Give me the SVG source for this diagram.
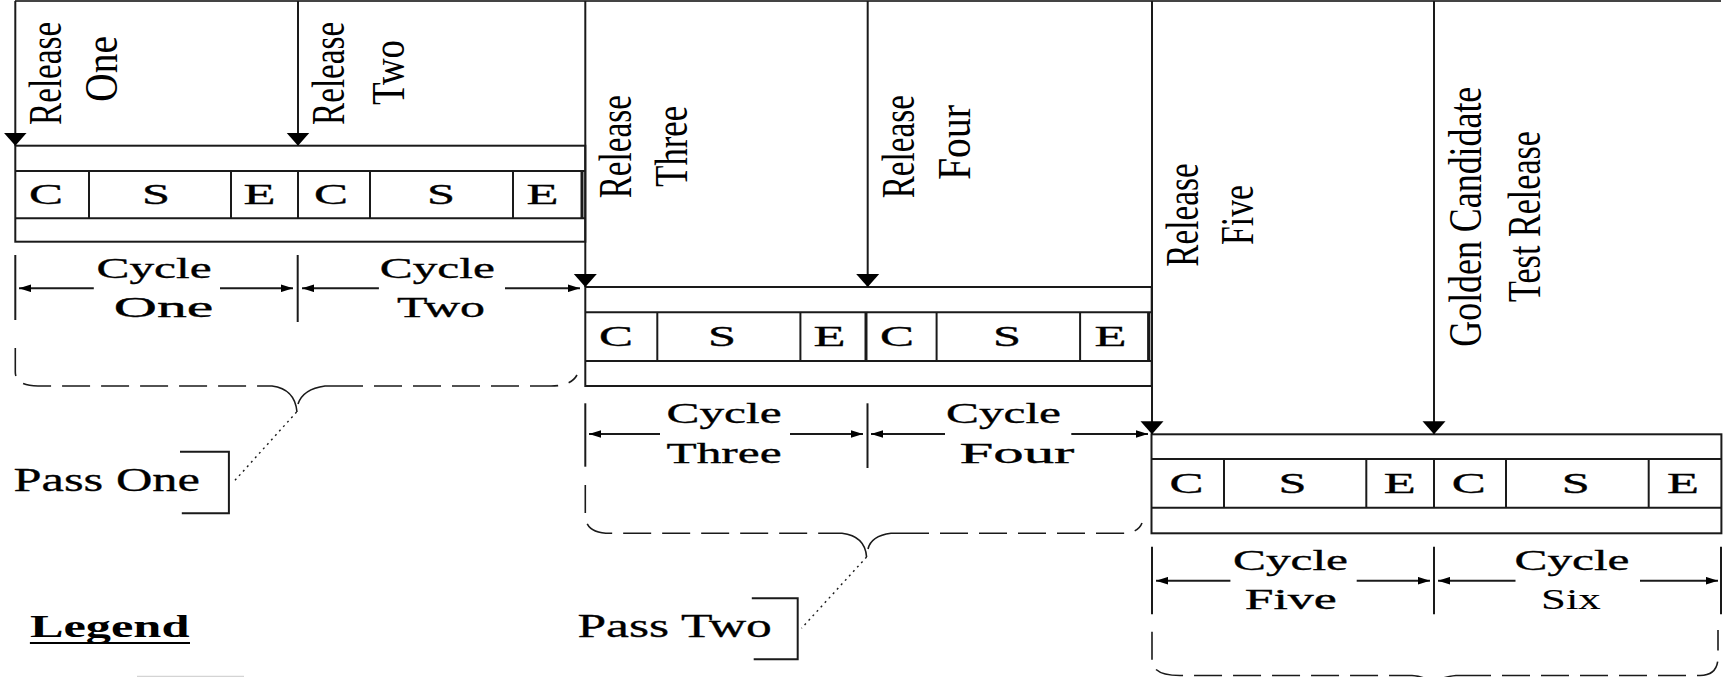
<svg xmlns="http://www.w3.org/2000/svg" width="1729" height="677" viewBox="0 0 1729 677">
<style>
  .ln{stroke:#1a1a1a;stroke-width:2;fill:none}
  .thick{stroke:#1a1a1a;stroke-width:3;fill:none}
  .blk{stroke:#1a1a1a;stroke-width:2;fill:#fff}
  .dash{stroke:#1a1a1a;stroke-width:1.6;fill:none;stroke-dasharray:28 11}
  .brace{stroke:#1a1a1a;stroke-width:1.6;fill:none}
  .dot{stroke:#1a1a1a;stroke-width:1.4;fill:none;stroke-dasharray:2 4}
  .vt{font-family:"Liberation Serif","Times New Roman",serif;font-size:46px;fill:#000}
  .ht{font-family:"Liberation Serif","Times New Roman",serif;font-size:30px;fill:#000;stroke:#000;stroke-width:0.35}
  .pt{font-family:"Liberation Serif","Times New Roman",serif;font-size:33px;fill:#000;stroke:#000;stroke-width:0.3}
  .lg{font-family:"Liberation Serif","Times New Roman",serif;font-size:32px;font-weight:bold;fill:#000}
  .rel{stroke:#1a1a1a;stroke-width:2;fill:none;marker-end:url(#relHead)}
  .dim{stroke:#1a1a1a;stroke-width:2;fill:none;marker-end:url(#dimHead)}
</style>
<defs>
  <marker id="relHead" markerUnits="userSpaceOnUse" markerWidth="14" markerHeight="24" viewBox="0 -12 14 24" refX="13" refY="0" orient="auto">
    <path d="M0,-11.5 L13,0 L0,11.5 z" fill="#000"/>
  </marker>
  <marker id="dimHead" markerUnits="userSpaceOnUse" markerWidth="12" markerHeight="8" viewBox="0 -4 12 8" refX="12" refY="0" orient="auto">
    <path d="M0,-3.8 L12,0 L0,3.8 z" fill="#000"/>
  </marker>
</defs>
<rect width="1729" height="677" fill="#fff"/>

<!-- top frame line -->
<line x1="15" y1="1" x2="1721" y2="1" stroke="#444" stroke-width="2"/>

<!-- Block 1 -->
<g id="block1">
  <rect class="blk" x="15.3" y="145.7" width="570" height="96"/>
  <line class="ln" x1="15.3" y1="171" x2="585.3" y2="171"/>
  <line class="ln" x1="15.3" y1="218.3" x2="585.3" y2="218.3"/>
  <line class="ln" x1="89" y1="171" x2="89" y2="218.3"/>
  <line class="ln" x1="231" y1="171" x2="231" y2="218.3"/>
  <line class="ln" x1="298" y1="171" x2="298" y2="218.3"/>
  <line class="ln" x1="370" y1="171" x2="370" y2="218.3"/>
  <line class="ln" x1="513" y1="171" x2="513" y2="218.3"/>
  <line class="thick" x1="582" y1="171" x2="582" y2="218.3"/>
  <text class="ht" x="29" y="204" textLength="34" lengthAdjust="spacingAndGlyphs">C</text>
  <text class="ht" x="142" y="204" textLength="28" lengthAdjust="spacingAndGlyphs">S</text>
  <text class="ht" x="243.5" y="204" textLength="32" lengthAdjust="spacingAndGlyphs">E</text>
  <text class="ht" x="314" y="204" textLength="34" lengthAdjust="spacingAndGlyphs">C</text>
  <text class="ht" x="427" y="204" textLength="28" lengthAdjust="spacingAndGlyphs">S</text>
  <text class="ht" x="526.5" y="204" textLength="32" lengthAdjust="spacingAndGlyphs">E</text>
</g>

<!-- Block 2 -->
<g id="block2">
  <rect class="blk" x="585.3" y="287" width="566.4" height="99"/>
  <line class="ln" x1="585.3" y1="312.3" x2="1151.7" y2="312.3"/>
  <line class="ln" x1="585.3" y1="361" x2="1151.7" y2="361"/>
  <line class="ln" x1="657.3" y1="312.3" x2="657.3" y2="361"/>
  <line class="ln" x1="800.4" y1="312.3" x2="800.4" y2="361"/>
  <line class="thick" x1="866" y1="312.3" x2="866" y2="361"/>
  <line class="ln" x1="936.6" y1="312.3" x2="936.6" y2="361"/>
  <line class="ln" x1="1080.1" y1="312.3" x2="1080.1" y2="361"/>
  <line class="thick" x1="1148.6" y1="312.3" x2="1148.6" y2="361"/>
  <text class="ht" x="599" y="346" textLength="34" lengthAdjust="spacingAndGlyphs">C</text>
  <text class="ht" x="708" y="346" textLength="28" lengthAdjust="spacingAndGlyphs">S</text>
  <text class="ht" x="813.5" y="346" textLength="32" lengthAdjust="spacingAndGlyphs">E</text>
  <text class="ht" x="880" y="346" textLength="34" lengthAdjust="spacingAndGlyphs">C</text>
  <text class="ht" x="993" y="346" textLength="28" lengthAdjust="spacingAndGlyphs">S</text>
  <text class="ht" x="1094.5" y="346" textLength="32" lengthAdjust="spacingAndGlyphs">E</text>
</g>

<!-- Block 3 -->
<g id="block3">
  <rect class="blk" x="1151.5" y="434.3" width="569.9" height="99"/>
  <line class="ln" x1="1151.5" y1="459" x2="1721.4" y2="459"/>
  <line class="ln" x1="1151.5" y1="507.7" x2="1721.4" y2="507.7"/>
  <line class="ln" x1="1224" y1="459" x2="1224" y2="507.7"/>
  <line class="ln" x1="1366.3" y1="459" x2="1366.3" y2="507.7"/>
  <line class="ln" x1="1434" y1="459" x2="1434" y2="507.7"/>
  <line class="ln" x1="1506" y1="459" x2="1506" y2="507.7"/>
  <line class="ln" x1="1648.7" y1="459" x2="1648.7" y2="507.7"/>
  <text class="ht" x="1169.4" y="493" textLength="34" lengthAdjust="spacingAndGlyphs">C</text>
  <text class="ht" x="1278.6" y="493" textLength="28" lengthAdjust="spacingAndGlyphs">S</text>
  <text class="ht" x="1383.7" y="493" textLength="32" lengthAdjust="spacingAndGlyphs">E</text>
  <text class="ht" x="1451.8" y="493" textLength="34" lengthAdjust="spacingAndGlyphs">C</text>
  <text class="ht" x="1561.8" y="493" textLength="28" lengthAdjust="spacingAndGlyphs">S</text>
  <text class="ht" x="1667" y="493" textLength="32" lengthAdjust="spacingAndGlyphs">E</text>
</g>

<!-- Release labels -->
<g id="release1">
  <text class="vt" transform="translate(61.2,125) rotate(-90) scale(0.722,1)">Release</text>
  <text class="vt" transform="translate(116.7,101.7) rotate(-90)" textLength="65.7" lengthAdjust="spacingAndGlyphs">One</text>
</g>
<g id="release2">
  <text class="vt" transform="translate(344.4,125) rotate(-90) scale(0.722,1)">Release</text>
  <text class="vt" transform="translate(403.7,105) rotate(-90)" textLength="65" lengthAdjust="spacingAndGlyphs">Two</text>
</g>
<g id="release3">
  <text class="vt" transform="translate(631.2,198.3) rotate(-90)" textLength="103.3" lengthAdjust="spacingAndGlyphs">Release</text>
  <text class="vt" transform="translate(686.7,186.7) rotate(-90)" textLength="80.7" lengthAdjust="spacingAndGlyphs">Three</text>
</g>
<g id="release4">
  <text class="vt" transform="translate(914.4,198.3) rotate(-90)" textLength="103.3" lengthAdjust="spacingAndGlyphs">Release</text>
  <text class="vt" transform="translate(970,180) rotate(-90)" textLength="75" lengthAdjust="spacingAndGlyphs">Four</text>
</g>
<g id="release5">
  <text class="vt" transform="translate(1197.9,266.7) rotate(-90)" textLength="103.4" lengthAdjust="spacingAndGlyphs">Release</text>
  <text class="vt" transform="translate(1253.4,245) rotate(-90)" textLength="60" lengthAdjust="spacingAndGlyphs">Five</text>
</g>
<g id="golden">
  <text class="vt" transform="translate(1481,346.7) rotate(-90)" textLength="260" lengthAdjust="spacingAndGlyphs">Golden Candidate</text>
  <text class="vt" transform="translate(1540.4,302) rotate(-90)" textLength="171" lengthAdjust="spacingAndGlyphs">Test Release</text>
</g>

<!-- Cycle labels -->
<g id="cycle1">
  <text class="ht" x="96.6" y="278.3" textLength="115" lengthAdjust="spacingAndGlyphs">Cycle</text>
  <text class="ht" x="113.8" y="317.3" textLength="99.6" lengthAdjust="spacingAndGlyphs">One</text>
</g>
<g id="cycle2">
  <text class="ht" x="379.8" y="278.3" textLength="115" lengthAdjust="spacingAndGlyphs">Cycle</text>
  <text class="ht" x="397" y="317.3" textLength="88" lengthAdjust="spacingAndGlyphs">Two</text>
</g>
<g id="cycle3">
  <text class="ht" x="666.6" y="423.3" textLength="115" lengthAdjust="spacingAndGlyphs">Cycle</text>
  <text class="ht" x="666.6" y="462.7" textLength="115" lengthAdjust="spacingAndGlyphs">Three</text>
</g>
<g id="cycle4">
  <text class="ht" x="946" y="423.3" textLength="115" lengthAdjust="spacingAndGlyphs">Cycle</text>
  <text class="ht" x="959.4" y="462.7" textLength="115" lengthAdjust="spacingAndGlyphs">Four</text>
</g>
<g id="cycle5">
  <text class="ht" x="1233" y="570" textLength="115" lengthAdjust="spacingAndGlyphs">Cycle</text>
  <text class="ht" x="1244.7" y="609.3" textLength="92" lengthAdjust="spacingAndGlyphs">Five</text>
</g>
<g id="cycle6">
  <text class="ht" x="1514.5" y="570" textLength="115" lengthAdjust="spacingAndGlyphs">Cycle</text>
  <text class="ht" x="1541" y="609.3" textLength="59.7" lengthAdjust="spacingAndGlyphs" style="stroke-width:0.1">Six</text>
</g>

<!-- Pass brackets -->
<g id="pass1">
  <path class="dash" d="M15.3 348 V372 Q15.3 386 38 386 H262 M335 386 H551 Q571 386 577 375"/>
  <path class="brace" d="M262 386 H272 Q295 389 297 412 M335 386 H325 Q303 389 298 404"/>
  <path class="ln" d="M180 451.7 H228.9 V513.3 H181.8"/>
  <text class="pt" x="13.5" y="490.7" textLength="186.5" lengthAdjust="spacingAndGlyphs">Pass One</text>
</g>
<g id="pass2">
  <path class="dash" d="M585.3 485 V515 Q585.3 533.3 610 533.3 H832 M901 533.3 H1122 Q1138 533.3 1142 523"/>
  <path class="brace" d="M832 533.3 H842 Q865 536 866.6 557 M901 533.3 H891 Q871 536 868 549"/>
  <path class="ln" d="M751.8 598.3 H797.7 V659.3 H753.7"/>
  <text class="pt" x="577.4" y="637.3" textLength="194.5" lengthAdjust="spacingAndGlyphs">Pass Two</text>
</g>
<g id="pass3">
  <path class="dash" d="M1152 631.7 V660 Q1152 675.5 1180 675.5 H1405 M1463 675.5 H1700 Q1718 675.5 1718 657 V630"/>
  <path class="brace" d="M1405 675.5 H1412 Q1432 677 1434 690 M1463 675.5 H1456 Q1438 677 1435 685"/>
</g>

<!-- Legend -->
<g id="legend">
  <text class="lg" x="29.9" y="637.3" textLength="159.5" lengthAdjust="spacingAndGlyphs">Legend</text>
  <line x1="29.9" y1="643" x2="190" y2="643" stroke="#000" stroke-width="2"/>
  <line x1="137" y1="676.5" x2="244" y2="676.5" stroke="#d4d4d4" stroke-width="1.5"/>
</g>

<!-- Connectors -->
<g id="connectors">
  <!-- release arrows -->
  <line class="rel" x1="15.3" y1="1" x2="15.3" y2="145.7"/>
  <line class="rel" x1="298" y1="1" x2="298" y2="145.7"/>
  <line class="rel" x1="585.3" y1="1" x2="585.3" y2="287"/>
  <line class="rel" x1="867.7" y1="1" x2="867.7" y2="287"/>
  <line class="rel" x1="1152" y1="1" x2="1152" y2="434.3"/>
  <line class="rel" x1="1434" y1="1" x2="1434" y2="434.3"/>
  <!-- dimension ticks -->
  <line class="ln" x1="15.3" y1="255" x2="15.3" y2="320"/>
  <line class="ln" x1="297.7" y1="255" x2="297.7" y2="322"/>
  <line class="ln" x1="585.3" y1="403.3" x2="585.3" y2="466.7"/>
  <line class="ln" x1="867.5" y1="403.3" x2="867.5" y2="468"/>
  <line class="ln" x1="1152" y1="546.7" x2="1152" y2="614.3"/>
  <line class="ln" x1="1434" y1="546.7" x2="1434" y2="614.3"/>
  <line class="ln" x1="1721" y1="546.7" x2="1721" y2="614.3"/>
  <!-- dimension arrows -->
  <line class="dim" x1="93.8" y1="288.3" x2="19" y2="288.3"/>
  <line class="dim" x1="220" y1="288.3" x2="293" y2="288.3"/>
  <line class="dim" x1="378.9" y1="288.3" x2="302" y2="288.3"/>
  <line class="dim" x1="505" y1="288.3" x2="580" y2="288.3"/>
  <line class="dim" x1="660" y1="434" x2="589" y2="434"/>
  <line class="dim" x1="790" y1="434" x2="863" y2="434"/>
  <line class="dim" x1="945" y1="434" x2="871" y2="434"/>
  <line class="dim" x1="1071.3" y1="434" x2="1148" y2="434"/>
  <line class="dim" x1="1230.4" y1="580.7" x2="1156" y2="580.7"/>
  <line class="dim" x1="1356.7" y1="580.7" x2="1430" y2="580.7"/>
  <line class="dim" x1="1515.5" y1="580.7" x2="1438" y2="580.7"/>
  <line class="dim" x1="1640" y1="580.7" x2="1718" y2="580.7"/>
  <!-- dotted leaders -->
  <line class="dot" x1="296.6" y1="412" x2="232.3" y2="483.3"/>
  <line class="dot" x1="866.6" y1="557" x2="801.5" y2="628.3"/>
</g>
</svg>
